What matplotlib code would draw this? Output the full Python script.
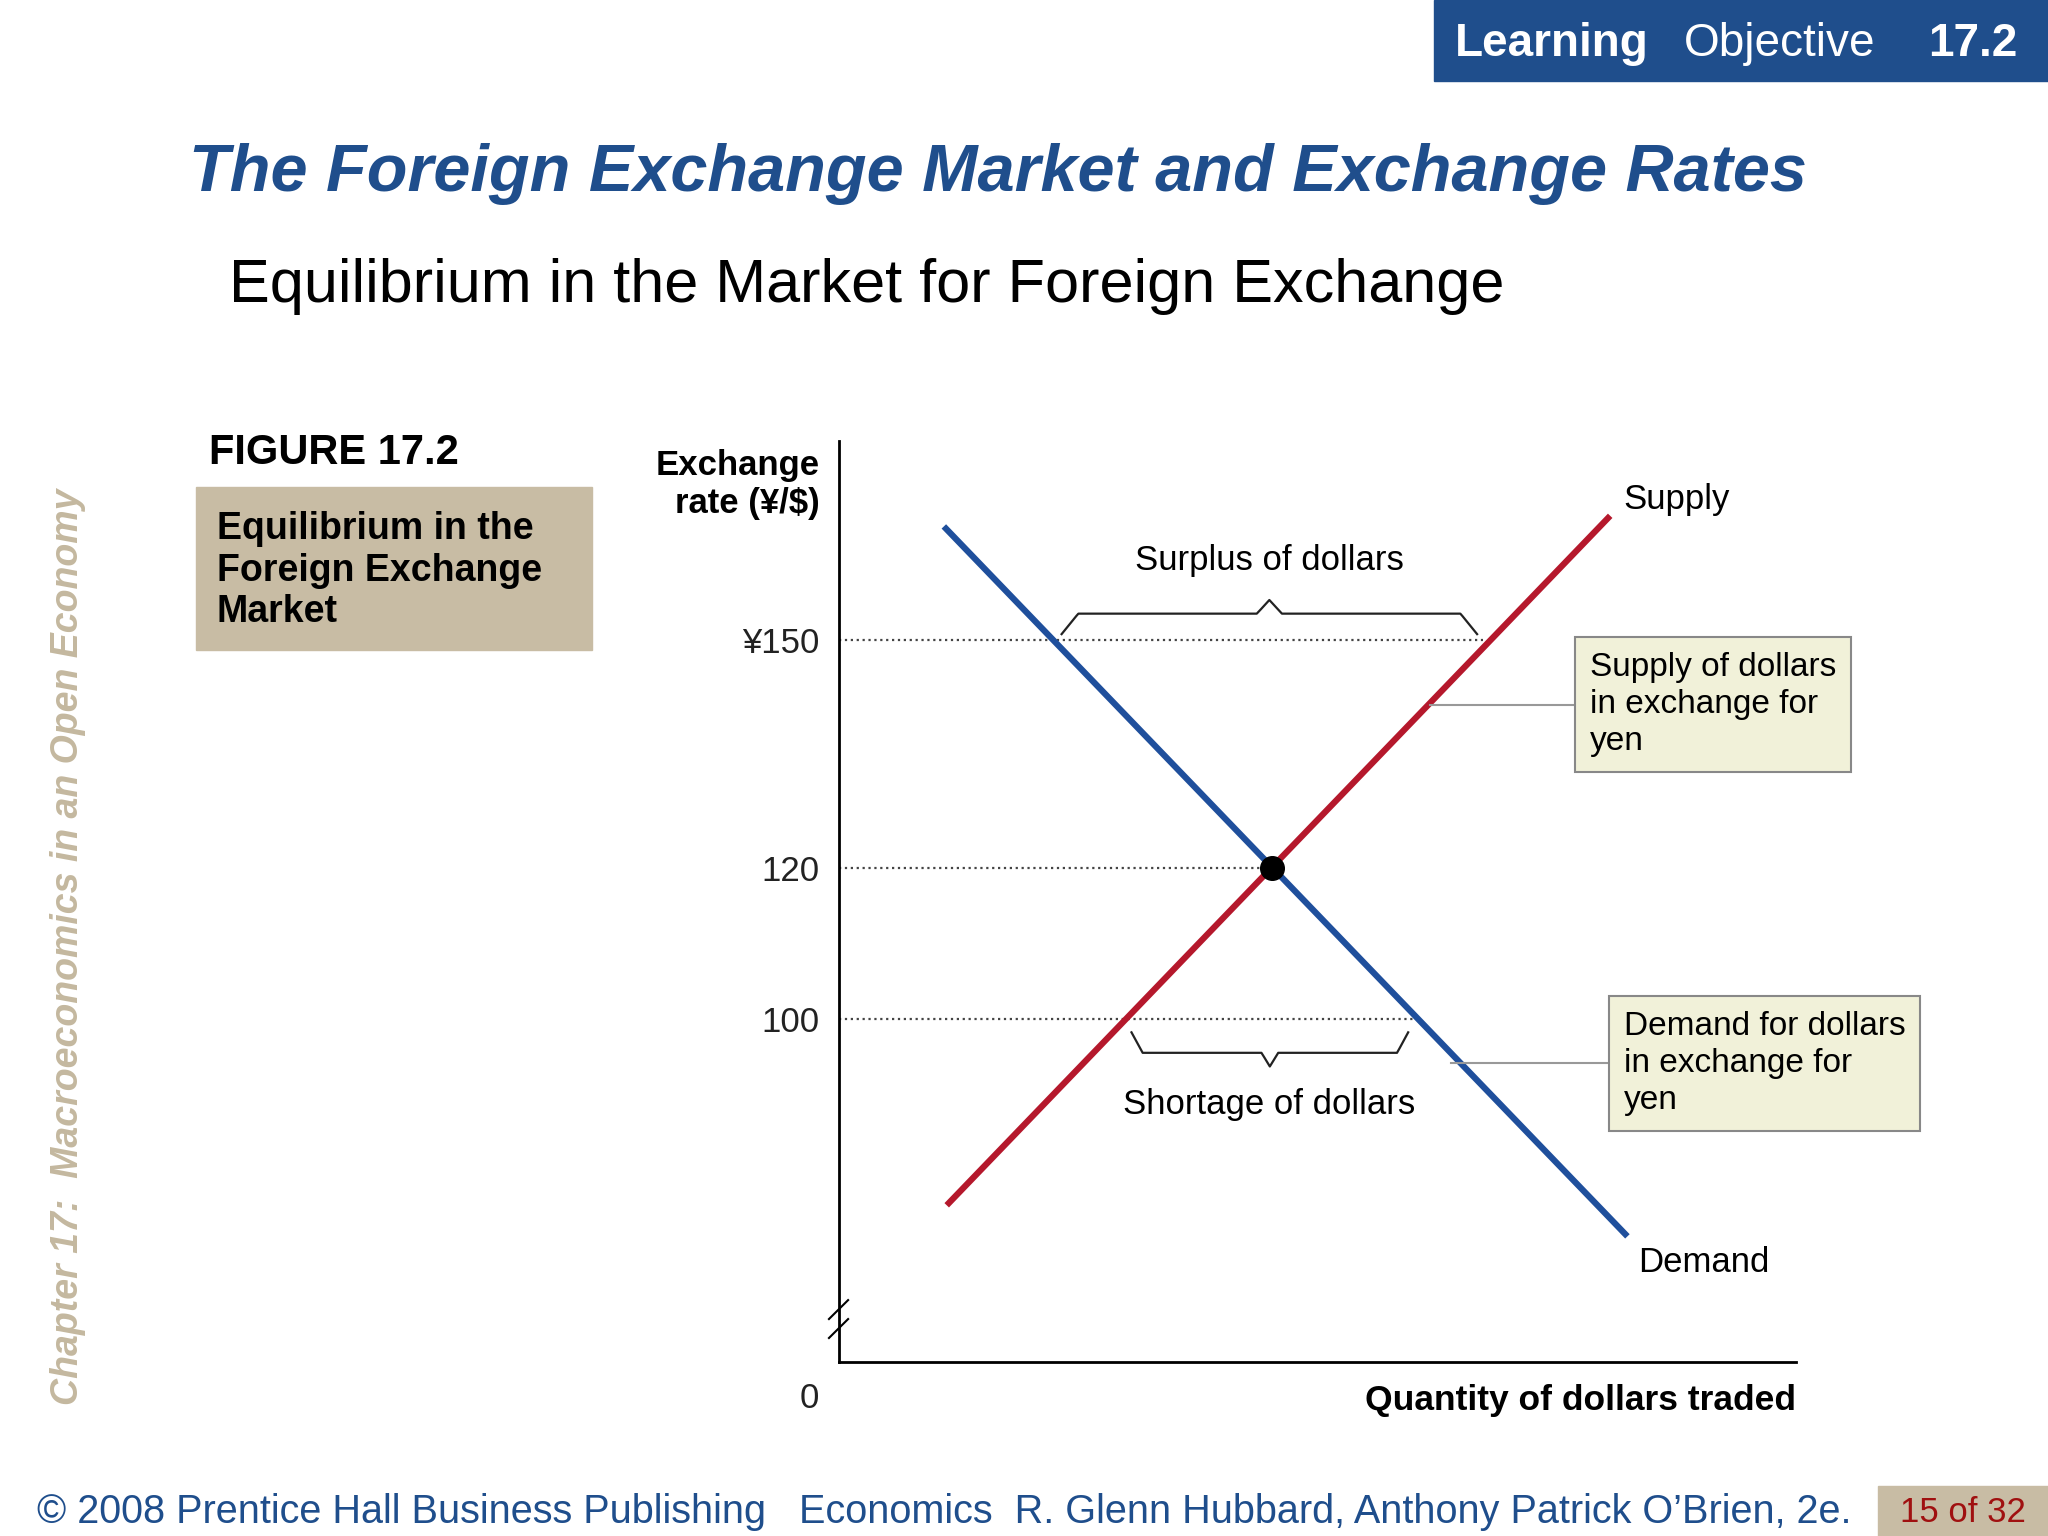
import numpy as np
import matplotlib.pyplot as plt
from matplotlib.patches import Rectangle

plt.rcParams['font.family'] = ['Liberation Sans', 'DejaVu Sans']

# data
demand_x = [1.1, 8.24]
demand_y = [165.0, 71.4]
supply_x = [1.13, 8.06]
supply_y = [75.5, 166.4]
eq_x, eq_y = 4.53, 120
guide_y = [150, 120, 100]
guide_end = [6.73, 4.53, 6.08]
tick_vals = [150, 120, 100]
tick_labels = ["¥150", "120", "100"]

W, H = 1568, 1176
def fx(x): return x / W
def fy(y): return 1 - y / H

fig = plt.figure(figsize=(20.48, 15.36), dpi=100)
fig.patch.set_facecolor("white")
blue = "#1f4e8c"
tan = "#c8bca4"

# header
fig.patches.append(Rectangle((fx(1098), fy(62)), fx(470), 62 / H, transform=fig.transFigure, color=blue))
fig.text(fx(1114), fy(34), "Learning", color="white", fontsize=33, fontweight="bold", va="center")
fig.text(fx(1289), fy(34), "Objective", color="white", fontsize=33, va="center")
fig.text(fx(1476), fy(34), "17.2", color="white", fontsize=33, fontweight="bold", va="center")
fig.text(fx(145), fy(133), "The Foreign Exchange Market and Exchange Rates", color=blue,
         fontsize=48, fontweight="bold", style="italic", va="center")
fig.text(fx(175), fy(219), "Equilibrium in the Market for Foreign Exchange", fontsize=44, va="center")

# left side
fig.text(fx(52), fy(725), "Chapter 17:  Macroeconomics in an Open Economy", rotation=90, color="#c4b89f",
         fontsize=27, fontweight="bold", style="italic", ha="center", va="center")
fig.text(fx(160), fy(347), "FIGURE 17.2", fontsize=30, fontweight="bold", va="center")
fig.patches.append(Rectangle((fx(150), fy(498)), fx(303), 125 / H, transform=fig.transFigure, color=tan))
fig.text(fx(166), fy(437), "Equilibrium in the\nForeign Exchange\nMarket", fontsize=27, fontweight="bold",
         va="center", linespacing=1.2)

# footer
fig.text(fx(28), fy(1158), "© 2008 Prentice Hall Business Publishing   Economics  R. Glenn Hubbard, Anthony Patrick O’Brien, 2e.",
         color=blue, fontsize=28.5, va="center")
fig.patches.append(Rectangle((fx(1438), fy(1176)), fx(130), 38 / H, transform=fig.transFigure, color=tan))
fig.text(fx(1503), fy(1158), "15 of 32", color="#a01010", fontsize=25, ha="center", va="center")

# chart
ax = fig.add_axes([fx(642), fy(1043), fx(1375 - 642), (1043 - 338) / H])
ax.set_xlim(0, 10)
ax.set_ylim(54.8, 176.2)
for s in ["top", "right"]:
    ax.spines[s].set_visible(False)
ax.spines["left"].set_linewidth(2)
ax.spines["bottom"].set_linewidth(2)
ax.set_xticks([])
ax.set_yticks(tick_vals)
ax.set_yticklabels(tick_labels, fontsize=25, color="#222222")
ax.tick_params(axis="y", length=0, pad=14)

for gy, ge in zip(guide_y, guide_end):
    ax.plot([0, ge], [gy, gy], ls=":", color="#444444", lw=1.6)
ax.plot(demand_x, demand_y, color="#1f4f9c", lw=4.5, solid_capstyle="butt")
ax.plot(supply_x, supply_y, color="#b5182c", lw=4.5, solid_capstyle="butt")
ax.plot(eq_x, eq_y, "o", color="black", ms=17, zorder=5)

def brace(x0, x1, y, h):
    xm = (x0 + x1) / 2
    xs = np.concatenate([np.linspace(x0, xm, 100), np.linspace(xm, x1, 100)])
    rel = np.abs(xs - xm) / (xm - x0)
    ys = np.where(rel > 0.92, (1 - rel) / 0.08, 1) * h * 0.6 + np.where(rel < 0.06, (0.06 - rel) / 0.06, 0) * h * 0.4
    ax.plot(xs, y + ys, color="#222222", lw=1.6)

brace(2.33, 6.67, 150.8, 4.5)
brace(3.06, 5.95, 98.3, -4.5)
ax.text(4.5, 160.5, "Surplus of dollars", fontsize=25, ha="center", va="center")
ax.text(4.5, 88.8, "Shortage of dollars", fontsize=25, ha="center", va="center")
ax.text(8.2, 168.5, "Supply", fontsize=25, va="center")
ax.text(8.35, 68.0, "Demand", fontsize=25, va="center")
ax.text(-0.2, 50.0, "0", fontsize=25, ha="right", va="center", color="#222222")
ax.text(10, 49.8, "Quantity of dollars traded", fontsize=25.5, fontweight="bold", ha="right", va="center")
ax.text(-0.2, 170.5, "Exchange\nrate (¥/$)", fontsize=25, fontweight="bold", ha="right", va="center",
        linespacing=1.2)
# axis break marks
ax.plot([-0.1, 0.1], [60.5, 63], color="black", lw=1.5, clip_on=False)
ax.plot([-0.1, 0.1], [58, 60.5], color="black", lw=1.5, clip_on=False)

# callouts
ax.plot([6.18, 7.8], [141.5, 141.5], color="#999999", lw=1.5)
ax.plot([6.4, 8.1], [94.2, 94.2], color="#999999", lw=1.5)
box = dict(boxstyle="square,pad=0.45", facecolor="#f1f1d9", edgecolor="#888888", lw=1.5)
ax.text(7.85, 141.5, "Supply of dollars\nin exchange for\nyen", fontsize=24, va="center", bbox=box,
        linespacing=1.25)
ax.text(8.2, 94.2, "Demand for dollars\nin exchange for\nyen", fontsize=24, va="center", bbox=box,
        linespacing=1.25)

fig.savefig("out.png", dpi=100)
